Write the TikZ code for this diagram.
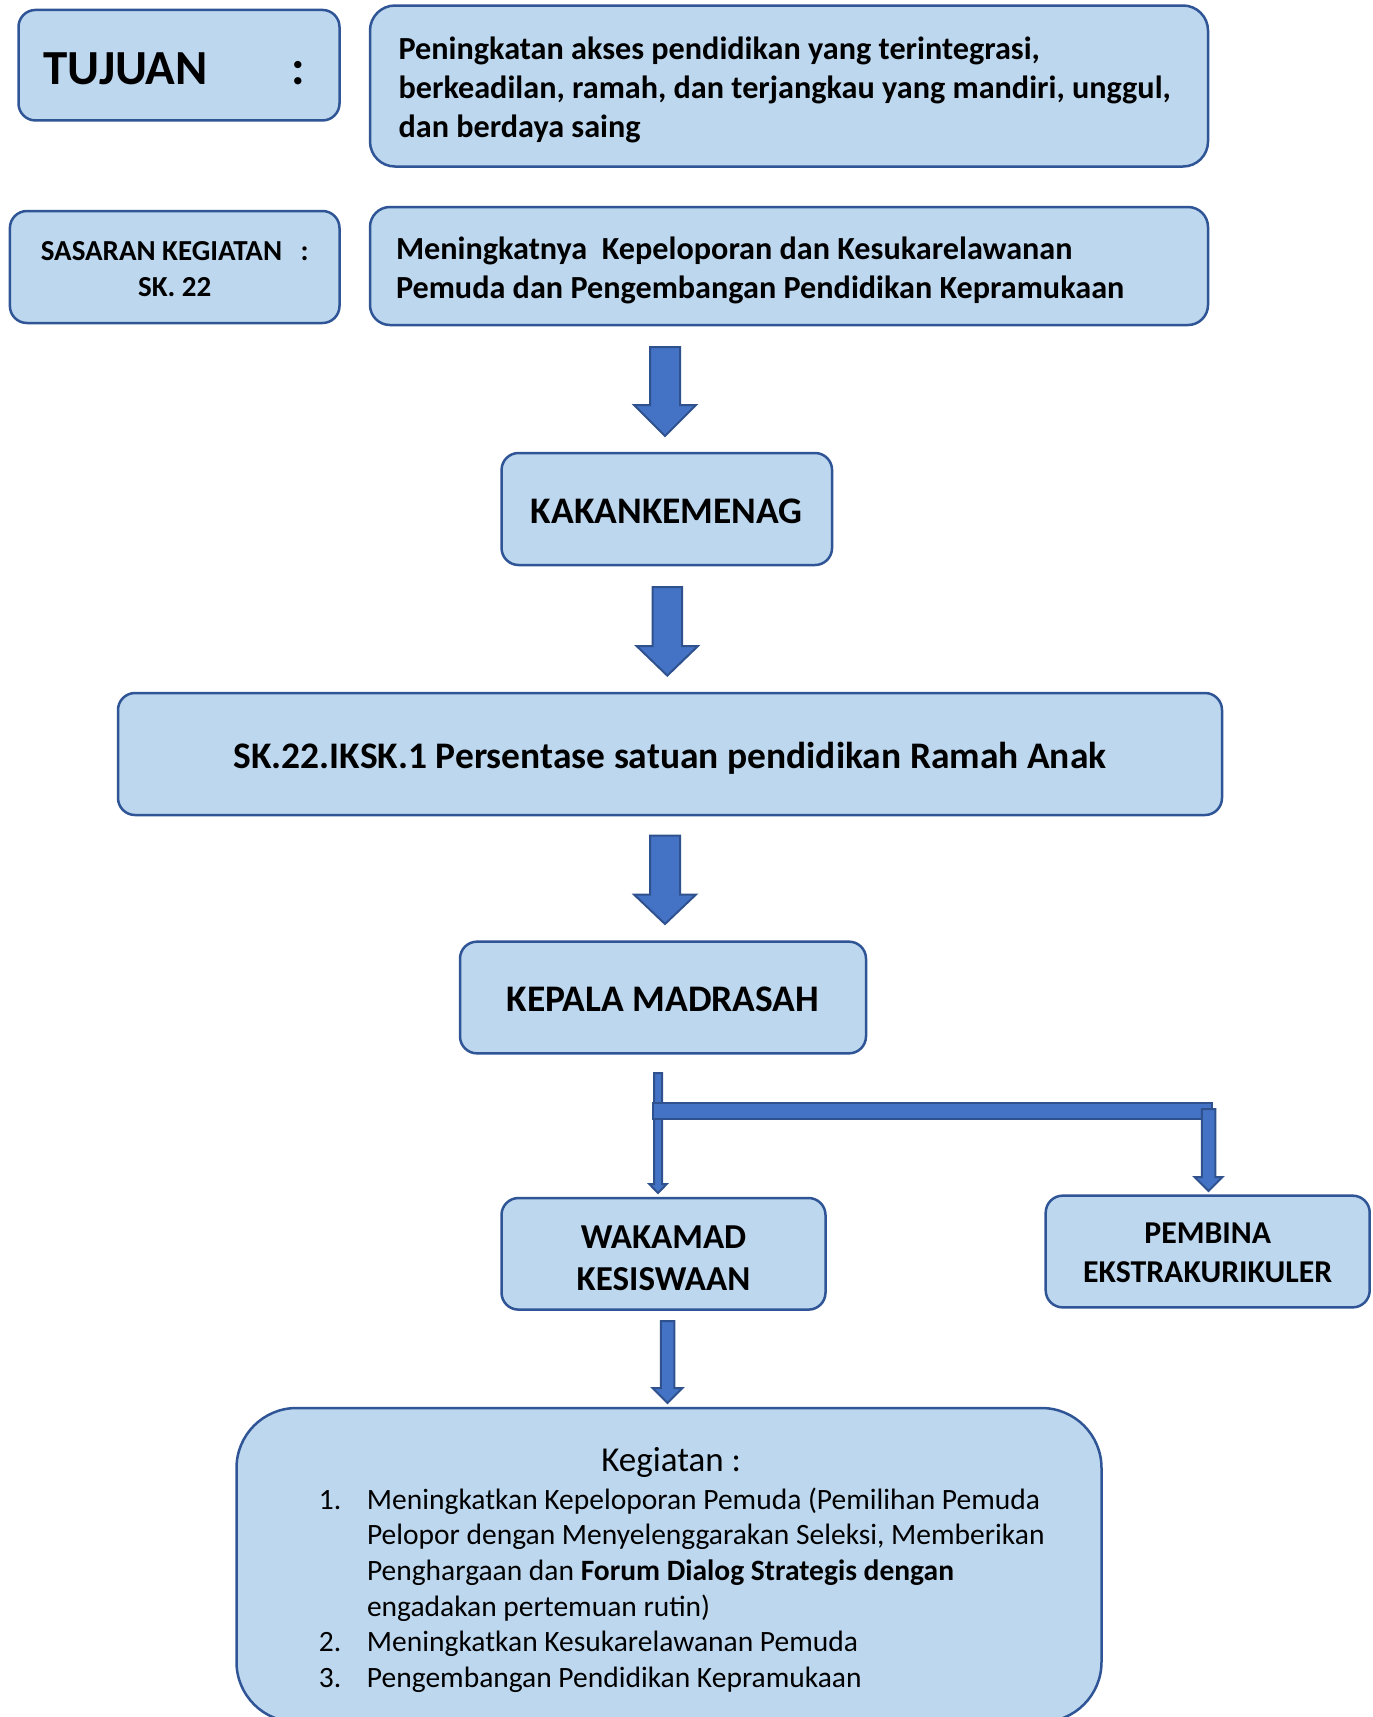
\documentclass[tikz,border=0pt]{standalone}
\usepackage{fontspec}
\setmainfont{Carlito}
\usetikzlibrary{calc}
\definecolor{boxfill}{HTML}{BDD7EE}
\definecolor{boxline}{HTML}{2F5597}
\definecolor{arrfill}{HTML}{4472C4}
\definecolor{arrline}{HTML}{2F528F}
\tikzset{
  box/.style={draw=boxline, fill=boxfill, line width=2.5pt, rounded corners=17pt, inner sep=0pt},
  bsize/.style 2 args={font=\fontsize{#1}{#2}\selectfont\bfseries},
  arr/.style={draw=arrline, fill=arrfill, line width=2pt, line join=miter},
}
% block arrow: start, end(tip), shaft half width, head half width, head length
\newcommand{\blockarrow}[5]{%
  \draw[arr] ($(#1)+(-#3,0)$) -- ($(#1)+(#3,0)$) -- ($(#2)+(#3,-#5)$) -- ($(#2)+(#4,-#5)$)
    -- (#2) -- ($(#2)+(-#4,-#5)$) -- ($(#2)+(-#3,-#5)$) -- cycle;}
% lowered text blocks (dimensions kept, so the text moves down inside its box)
\newcommand{\lows}[2]{\raisebox{-#1pt}[\height][\depth]{#2}}
\newcommand{\lowc}[2]{\raisebox{-#1pt}[\height][\depth]{\begin{tabular}{@{}c@{}}#2\end{tabular}}}
\newcommand{\lowl}[3]{\raisebox{-#1pt}[\height][\depth]{\makebox[#2pt][l]{\begin{tabular}{@{}l@{}}#3\end{tabular}}}}
\begin{document}
\begin{tikzpicture}[x=1pt,y=-1pt]
\useasboundingbox (0,0) rectangle (1373,1717);
\fill[white] (0,0) rectangle (1373,1717);

% row 1
\node[box, bsize={49}{56}, minimum width=321pt, minimum height=110.5pt] (tuj) at (179,65.2)
  {\lows{3.3}{\makebox[262pt]{TUJUAN\hfill:}}\hspace*{9pt}};
\node[box, bsize={32.2}{38.9}, rounded corners=25pt, minimum width=838pt, minimum height=161pt] (tujt) at (789,86)
  {\lowl{5}{780.8}{Peningkatan akses pendidikan yang terintegrasi,\\ berkeadilan, ramah, dan terjangkau yang mandiri, unggul,\\ dan berdaya saing}};

% row 2
\node[box, bsize={29}{36}, minimum width=329.6pt, minimum height=112pt] (sas) at (174.7,267)
  {\lowc{4.4}{SASARAN KEGIATAN\hspace{18.5pt}:\\ SK. 22}};
\node[box, bsize={32.2}{38.5}, rounded corners=20pt, minimum width=838pt, minimum height=118pt] (sast) at (789,266)
  {\lowl{5.5}{786}{Meningkatnya~~Kepeloporan dan Kesukarelawanan\\ Pemuda dan Pengembangan Pendidikan Kepramukaan}};

% chain
\node[box, bsize={37.5}{44}, minimum width=330.5pt, minimum height=112pt] (kak) at (666.8,509)
  {\lows{2.2}{KAKANKEMENAG}};
\node[box, bsize={37.5}{44}, minimum width=1104pt, minimum height=122pt] (sk) at (670,754)
  {\lows{4.4}{SK.22.IKSK.1 Persentase satuan pendidikan Ramah Anak}};
\node[box, bsize={37.5}{44}, minimum width=406pt, minimum height=111.7pt] (kep) at (663,997.5)
  {\lows{2.2}{KEPALA MADRASAH}};
\node[box, bsize={35}{42.7}, minimum width=324pt, minimum height=111.6pt] (wak) at (663.5,1253.8)
  {\lowc{7}{WAKAMAD\\ KESISWAAN}};
\node[box, bsize={31.8}{38.3}, minimum width=324pt, minimum height=111.7pt] (pem) at (1207.7,1251.5)
  {\lowc{3.8}{PEMBINA\\ EKSTRAKURIKULER}};
\node[box, rounded corners=60pt, minimum width=865pt, minimum height=314pt] (keg) at (669,1565) {};
\node[anchor=base, inner sep=0pt, font=\fontsize{35}{42}\selectfont] (kegt) at (671.2,1471) {Kegiatan :};
\node[anchor=base west, inner sep=0pt, font=\fontsize{29.5}{35.7}\selectfont] (kegl) at (318.6,1509)
  {\begin{tabular}[t]{@{}p{48.2pt}@{}l@{}}
   1. & Meningkatkan Kepeloporan Pemuda (Pemilihan Pemuda\\
      & Pelopor dengan Menyelenggarakan Seleksi, Memberikan\\
      & Penghargaan dan \textbf{Forum Dialog Strategis dengan}\\
      & engadakan pertemuan rutin)\\
   2. & Meningkatkan Kesukarelawanan Pemuda\\
   3. & Pengembangan Pendidikan Kepramukaan
   \end{tabular}};

% arrows
\coordinate (a1s) at (665,347);   \coordinate (a1e) at (665,436);
\coordinate (a2s) at (667.3,587); \coordinate (a2e) at (667.3,675.6);
\coordinate (a3s) at (665,835.5); \coordinate (a3e) at (665,924);
\coordinate (a4s) at (667.5,1321); \coordinate (a4e) at (667.5,1403);
\coordinate (bls) at (658,1073);  \coordinate (ble) at (658,1193);
\coordinate (brs) at (1208.5,1109); \coordinate (bre) at (1208.5,1191);
\blockarrow{a1s}{a1e}{15}{31}{31}
\blockarrow{a2s}{a2e}{14.7}{30.7}{29.6}
\blockarrow{a3s}{a3e}{15}{31}{29.5}
\blockarrow{a4s}{a4e}{6.75}{15}{15}
\blockarrow{bls}{ble}{4}{8.75}{9}
\draw[arr] (652.6,1102.6) rectangle (1212,1119);
\blockarrow{brs}{bre}{6.75}{14}{14}
\end{tikzpicture}
\end{document}
